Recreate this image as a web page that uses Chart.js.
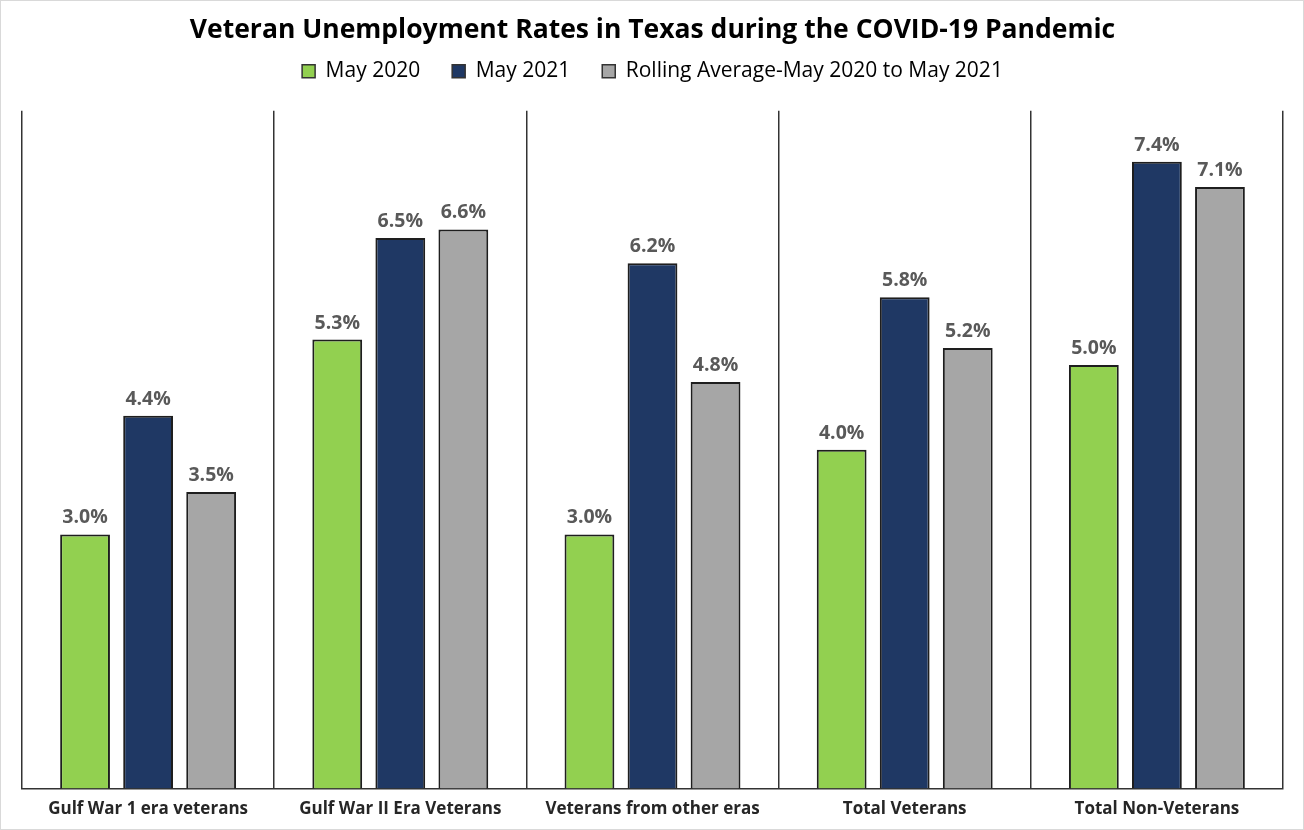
<!DOCTYPE html>
<html>
<head>
<meta charset="utf-8">
<script src="https://cdn.jsdelivr.net/npm/chart.js@4"></script>
<style>
  html, body { margin: 0; padding: 0; background: #fff; }
  #wrap { width: 1304px; height: 830px; box-sizing: border-box; border: 1px solid #d9d9d9; }
</style>
</head>
<body>
<div id="wrap"><canvas id="chart"></canvas></div>
<script>
// Chart data
const categories = ['Gulf War 1 era veterans', 'Gulf War II Era Veterans', 'Veterans from other eras', 'Total Veterans', 'Total Non-Veterans'];
const may2020 = [3.0, 5.3, 3.0, 4.0, 5.0];
const may2021 = [4.4, 6.5, 6.2, 5.8, 7.4];
const rollingAvg = [3.5, 6.6, 4.8, 5.2, 7.1];

// Value labels above each bar
const barLabels = {
    id: 'barLabels',
    afterDatasetsDraw(chart) {
        const ctx = chart.ctx;
        ctx.save();
        ctx.font = 'bold 19.5px "Open Sans"';
        ctx.fillStyle = '#595959';
        ctx.textAlign = 'center';
        ctx.textBaseline = 'alphabetic';
        chart.data.datasets.forEach(function (ds, i) {
            chart.getDatasetMeta(i).data.forEach(function (bar, j) {
                ctx.fillText(ds.data[j].toFixed(1) + '%', bar.x, bar.y - 11);
            });
        });
        ctx.restore();
    }
};

// Extra space between legend and plot
const legendSpacing = {
    id: 'legendSpacing',
    beforeInit(chart) {
        const fit = chart.legend.fit;
        chart.legend.fit = function () {
            fit.bind(chart.legend)();
            this.height += 19;
        };
    }
};

const ctx = document.getElementById('chart').getContext('2d');
const myChart = new Chart(ctx, {
    type: 'bar',
    data: {
        labels: categories,
        datasets: [
            { label: 'May 2020', data: may2020, backgroundColor: '#92d050' },
            { label: 'May 2021', data: may2021, backgroundColor: '#1f3864' },
            { label: 'Rolling Average-May 2020 to May 2021', data: rollingAvg, backgroundColor: '#a6a6a6' }
        ]
    },
    options: {
        responsive: true,
        maintainAspectRatio: false,
        animation: false,
        datasets: {
            bar: {
                borderColor: '#1e1e1e',
                borderWidth: 2,
                borderSkipped: 'bottom',
                categoryPercentage: 0.75,
                barPercentage: 0.79
            }
        },
        layout: { padding: { left: 21, right: 20, top: 14, bottom: 0 } },
        plugins: {
            title: {
                display: true,
                text: 'Veteran Unemployment Rates in Texas during the COVID-19 Pandemic',
                color: '#000',
                font: { family: 'Open Sans', size: 26.5, weight: 'bold' },
                padding: { top: 0, bottom: -18 }
            },
            legend: {
                display: true,
                labels: {
                    color: '#595959',
                    font: { family: 'Open Sans', size: 21 },
                    boxWidth: 13,
                    boxHeight: 13,
                    padding: 32,
                    generateLabels: function (chart) {
                        return chart.data.datasets.map(function (ds, i) {
                            return {
                                text: ds.label,
                                fillStyle: ds.backgroundColor,
                                strokeStyle: '#333',
                                lineWidth: 1.5,
                                datasetIndex: i
                            };
                        });
                    }
                }
            },
            tooltip: { enabled: false }
        },
        scales: {
            x: {
                grid: { display: true, offset: true, color: '#333', lineWidth: 1.5, drawTicks: false },
                border: { display: true, color: '#333', width: 1.5 },
                ticks: {
                    color: '#262626',
                    font: { family: 'Open Sans', size: 17, weight: 'bold' },
                    padding: 10
                }
            },
            y: {
                display: false,
                min: 0,
                max: 8
            }
        }
    },
    plugins: [barLabels, legendSpacing]
});
</script>
</body>
</html>
